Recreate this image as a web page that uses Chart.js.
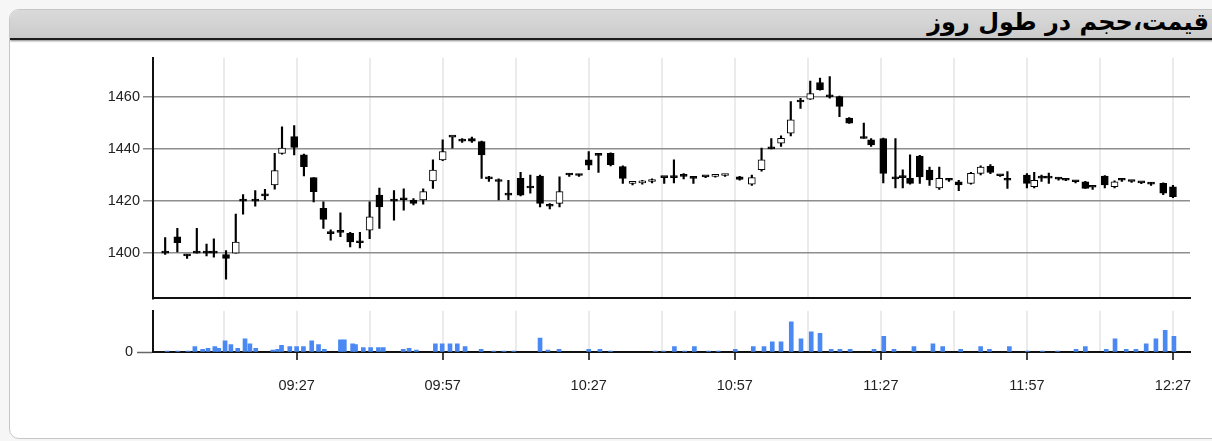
<!DOCTYPE html>
<html>
<head>
<meta charset="utf-8">
<script src="https://cdn.jsdelivr.net/npm/chart.js@4.4.0/dist/chart.umd.min.js"></script>
<style>
body{margin:0;width:1212px;height:441px;overflow:hidden;background:#f6f6f6;font-family:"Liberation Sans",Arial,sans-serif;}
#box{position:absolute;left:9px;top:9px;width:1240px;height:428px;background:#fff;border:1px solid #c6c6c6;border-radius:10px;overflow:hidden;}
#head{height:28px;background:linear-gradient(#dadada,#cbcbcb);border-bottom:2px solid #1c1c1c;box-shadow:0 1px 2px #888;}
#title{position:absolute;right:3px;top:9px;font-family:"DejaVu Sans",sans-serif;font-weight:bold;font-size:24px;line-height:26px;color:#000;direction:rtl;}
canvas{position:absolute;left:0;}
#price{top:46px;}
#vol{top:298px;}
</style>
</head>
<body>
<div id="box"><div id="head"></div></div>
<div id="title">قیمت،حجم در طول روز</div>
<canvas id="price" width="1212" height="264"></canvas>
<canvas id="vol" width="1212" height="107"></canvas>
<script>
// CANDLES - minutes after 09:00
const candleMinutes = [0, 2.5, 4.5, 6.5, 8.5, 10, 12.5, 14.5, 16, 18.5, 20.5, 22.5, 24, 26.5, 28.5, 30.5, 32.5, 34, 36, 38,
  40, 42, 44, 47, 49, 51, 53, 55, 57, 59, 61, 63, 65, 66.5, 68.5, 70.5, 73, 75, 77, 79,
  81, 83, 85, 87, 89, 91.5, 94, 96, 98, 100, 102.5, 104.5, 106.5, 108.5, 111, 113, 115, 118, 120.5, 122.5,
  124.5, 126.5, 128.5, 130.5, 132.5, 134.5, 136.5, 138.5, 140.5, 143.5, 145, 147.5, 150, 151.5, 153, 155, 157, 159, 161, 163,
  165.5, 167.5, 169.5, 171.5, 173, 177, 178.5, 180, 181.5, 183.5, 185, 187, 189, 190.5, 193, 195, 196.5, 198.5, 200.5, 202.5,
  205, 207];
const opens = [1400, 1406.3, 1399.5, 1400, 1400, 1400, 1399.5, 1400, 1420, 1420, 1422, 1426.2, 1438.3, 1444.7, 1437.7, 1429, 1417.2, 1407.5, 1408, 1407.6,
  1404, 1408.8, 1422.3, 1420, 1420.5, 1420.4, 1420.4, 1427.7, 1435.8, 1444.5, 1443.5, 1444, 1442.8, 1429, 1428, 1422.3, 1428.7, 1425, 1429.6, 1418,
  1419.1, 1430, 1430, 1435.8, 1438, 1438.3, 1433.2, 1426.8, 1427, 1427.5, 1429, 1429, 1429.5, 1428.7, 1429.3, 1429.5, 1429.8, 1429.3, 1426.5, 1432,
  1440, 1442.2, 1446, 1458, 1459.1, 1465.5, 1460, 1460.1, 1451.8, 1444, 1443.5, 1444, 1428.5, 1429, 1428.7, 1437.3, 1431.9, 1425, 1428, 1427.4,
  1426.8, 1430.6, 1433.3, 1429.7, 1428, 1430, 1425.5, 1428.8, 1428.8, 1428.4, 1428.2, 1427.4, 1427.4, 1425.3, 1429.6, 1425.5, 1428, 1427.5, 1427, 1427,
  1426.8, 1425.5];
const highs = [1406, 1409.5, 1399.5, 1409.5, 1403.5, 1405.5, 1401, 1415, 1422.5, 1424, 1424.5, 1438.3, 1448.5, 1449, 1438, 1429, 1419.7, 1409, 1415.5, 1408,
  1408, 1419.7, 1425, 1424, 1424.7, 1421, 1424.7, 1435.8, 1443.5, 1444.5, 1444, 1444.5, 1443, 1429.5, 1428.5, 1428, 1431, 1430, 1430, 1419,
  1429.3, 1430.5, 1430.3, 1439, 1438.3, 1438.5, 1433.5, 1427.2, 1428, 1428.5, 1429.2, 1435.8, 1430.5, 1429.5, 1429.5, 1430, 1430.3, 1429.5, 1430, 1440.3,
  1444, 1445, 1458.2, 1459.4, 1466, 1467.2, 1467.8, 1460.3, 1452, 1449.9, 1444, 1444.2, 1444, 1432, 1437.7, 1437.5, 1433, 1433, 1428.5, 1428,
  1431, 1433.5, 1434, 1430, 1431.3, 1430.5, 1431, 1430, 1430.7, 1429, 1428.5, 1427.8, 1427.6, 1425.5, 1429.8, 1427.8, 1428.3, 1427.8, 1427.3, 1427.2,
  1427, 1426];
const lows = [1399.5, 1400.5, 1398, 1400, 1399, 1398.5, 1390, 1400, 1415, 1418, 1420.5, 1424.6, 1438, 1437.7, 1429.6, 1419.7, 1409.5, 1405, 1406.3, 1402.4,
  1402, 1405.6, 1409.5, 1412.7, 1416.5, 1418.5, 1418.8, 1424.9, 1435.5, 1440.3, 1442.5, 1442.5, 1428.7, 1427.5, 1420.4, 1420.5, 1422, 1423, 1417.8, 1417,
  1417.8, 1429.5, 1429.5, 1432, 1431, 1433.5, 1426.8, 1426.2, 1426.5, 1427, 1426.8, 1427, 1428.5, 1426.8, 1429, 1429.2, 1429.5, 1428, 1426, 1431.5,
  1440, 1441, 1445, 1455.5, 1459, 1462.5, 1459.5, 1452.4, 1449.8, 1444, 1441, 1427, 1425, 1425, 1426.5, 1426.8, 1426, 1424.5, 1427.5, 1424,
  1426.5, 1430, 1430.5, 1429.5, 1424.9, 1425, 1425, 1427.5, 1426.8, 1428, 1427.8, 1427, 1424.9, 1424.5, 1425, 1425, 1427.5, 1427.2, 1426.7, 1426,
  1422.5, 1421.3];
const closes = [1400, 1404, 1399, 1400, 1400, 1400, 1398, 1404.3, 1420, 1420, 1422, 1431.7, 1440.3, 1440.6, 1433.2, 1423.6, 1413, 1407.5, 1408, 1404.3,
  1404, 1414, 1417.8, 1420, 1420.5, 1419.1, 1423.6, 1431.9, 1439, 1444.5, 1443, 1443, 1437.7, 1428.5, 1427.5, 1422.3, 1422.3, 1425, 1419.1, 1418,
  1423.6, 1430, 1429.8, 1433.8, 1437.5, 1434, 1428.7, 1427, 1427.5, 1428, 1429, 1429, 1429.5, 1428.7, 1429.3, 1429.6, 1430, 1428.3, 1429, 1435.8,
  1440, 1444.1, 1451.2, 1458, 1461.2, 1462.7, 1460, 1456.3, 1449.9, 1444, 1441.5, 1430.6, 1428.5, 1429, 1426.8, 1429.3, 1428.1, 1428.7, 1428, 1426.2,
  1430.6, 1433, 1431, 1429.7, 1428, 1426.8, 1428, 1428.8, 1428.8, 1428.4, 1428, 1427.4, 1424.9, 1425.3, 1426.2, 1427.4, 1428, 1427.5, 1427, 1426.5,
  1423, 1421.7];

// VOLUME - minutes after 09:00
const volMinutes = [0.4, 2.6, 4.7, 6.1, 7.7, 8.8, 10.2, 11, 12.3, 13.5, 14.9, 16.4, 17.4, 18.6, 22.1, 23.1, 23.9, 25.6, 27, 28.4,
  30.1, 31.5, 32.7, 36, 36.8, 38.5, 39.1, 40.7, 42.2, 43.8, 44.8, 48.9, 50.1, 51.6, 55.5, 56.9, 58.5, 60, 61.6, 64.9,
  67.5, 69.6, 71.6, 77, 78.6, 80.9, 87, 89.3, 91.5, 100.7, 102.4, 104.6, 106.7, 108.7, 111.6, 113.6, 117.1, 120.8, 123, 124.7,
  126.5, 128.6, 130.6, 132.7, 134.5, 136.8, 138.6, 140.7, 145.6, 147.6, 149.7, 153.8, 157.7, 159.7, 163.4, 167.5, 169.3, 173.4, 177.1, 180.2,
  183.3, 187.1, 189, 193.3, 195.1, 197.4, 199.4, 201.5, 203.5, 205.4, 207.2];
const volumes = [10, 10, 10, 55, 26, 37, 55, 37, 110, 74, 37, 130, 80, 37, 18, 26, 67, 55, 55, 55,
  110, 74, 26, 120, 120, 80, 74, 44, 44, 44, 44, 26, 37, 18, 80, 80, 80, 80, 55, 26,
  10, 10, 10, 137, 18, 26, 26, 26, 10, 10, 10, 55, 10, 55, 10, 10, 26, 55, 55, 100,
  100, 300, 130, 200, 185, 26, 26, 26, 26, 155, 26, 55, 80, 55, 26, 55, 26, 55, 10, 10,
  10, 26, 55, 26, 130, 26, 26, 80, 130, 215, 155];

const priceTicks = [1400, 1420, 1440, 1460];
const gridMinutes = [12, 27, 42, 57, 72, 87, 102, 117, 132, 147, 162, 177, 192, 207];

function fmtTime(m){
    let h = 9 + Math.floor(m / 60);
    let mm = m % 60;
    return (h < 10 ? '0' + h : h) + ':' + (mm < 10 ? '0' + mm : mm);
};
function isLabelled(m){
    return (m - 27) % 30 === 0;
};

const tickFont = {family: 'Liberation Sans', size: 14.5};

function timeAxis(showLabels){
    return {
        type: 'linear',
        offset: false,
        min: -2.5,
        max: 210.5,
        afterBuildTicks: function(s){ s.ticks = gridMinutes.map(v => ({value: v})); },
        afterFit: function(s){ s.height = showLabels ? 53 : 2; },
        grid: {
            offset: false,
            color: '#ebebeb',
            lineWidth: 2,
            drawTicks: showLabels,
            tickLength: 8,
            tickWidth: 2,
            tickColor: ctx => (ctx.tick && isLabelled(ctx.tick.value)) ? '#444' : 'rgba(0,0,0,0)'
        },
        border: {display: true, color: '#111', width: 2},
        ticks: {
            display: showLabels,
            autoSkip: false,
            maxRotation: 0,
            padding: 17,
            color: '#222',
            font: tickFont,
            callback: v => isLabelled(v) ? fmtTime(v) : ''
        }
    };
};

// PRICE CHART
let bodyColors = opens.map((o, i) => closes[i] > o ? '#ffffff' : '#000000');
new Chart(document.getElementById('price').getContext('2d'), {
    type: 'bar',
    data: {
        datasets: [{
            data: candleMinutes.map((m, i) => ({x: m, y: [opens[i], closes[i]]})),
            backgroundColor: bodyColors,
            borderColor: '#000',
            borderWidth: 1,
            borderSkipped: false,
            barThickness: 7,
            minBarLength: 2,
            grouped: false,
            order: 0
        }, {
            data: candleMinutes.map((m, i) => ({x: m, y: [lows[i], highs[i]]})),
            backgroundColor: '#000',
            barThickness: 1.5,
            grouped: false,
            order: 1
        }]
    },
    options: {
        responsive: false,
        animation: false,
        layout: {padding: {top: 8, right: 22, left: 0, bottom: 0}},
        plugins: {legend: {display: false}, tooltip: {enabled: false}},
        scales: {
            x: timeAxis(false),
            y: {
                min: 1382.7,
                max: 1475,
                afterBuildTicks: function(s){ s.ticks = priceTicks.map(v => ({value: v})); },
                afterFit: function(s){ s.width = 153; },
                grid: {color: '#8e8e8e', lineWidth: 1.5, tickLength: 10, tickColor: '#8e8e8e'},
                border: {display: true, color: '#111', width: 2},
                ticks: {color: '#222', font: tickFont, padding: 3, callback: v => String(v)}
            }
        }
    }
});

// VOLUME CHART
new Chart(document.getElementById('vol').getContext('2d'), {
    type: 'bar',
    data: {
        datasets: [{
            data: volMinutes.map((m, i) => ({x: m, y: volumes[i]})),
            backgroundColor: '#4a89f3',
            barThickness: 4
        }]
    },
    options: {
        responsive: false,
        animation: false,
        layout: {padding: {top: 8, right: 22, left: 0, bottom: 0}},
        plugins: {legend: {display: false}, tooltip: {enabled: false}},
        scales: {
            x: timeAxis(true),
            y: {
                min: 0,
                max: 410,
                afterBuildTicks: function(s){ s.ticks = [{value: 0}]; },
                afterFit: function(s){ s.width = 153; },
                grid: {drawOnChartArea: false, tickLength: 16, tickColor: '#666', tickWidth: 1.5},
                border: {display: true, color: '#111', width: 2},
                ticks: {color: '#222', font: tickFont, padding: 4, callback: v => String(v)}
            }
        }
    }
});
</script>
</body>
</html>
